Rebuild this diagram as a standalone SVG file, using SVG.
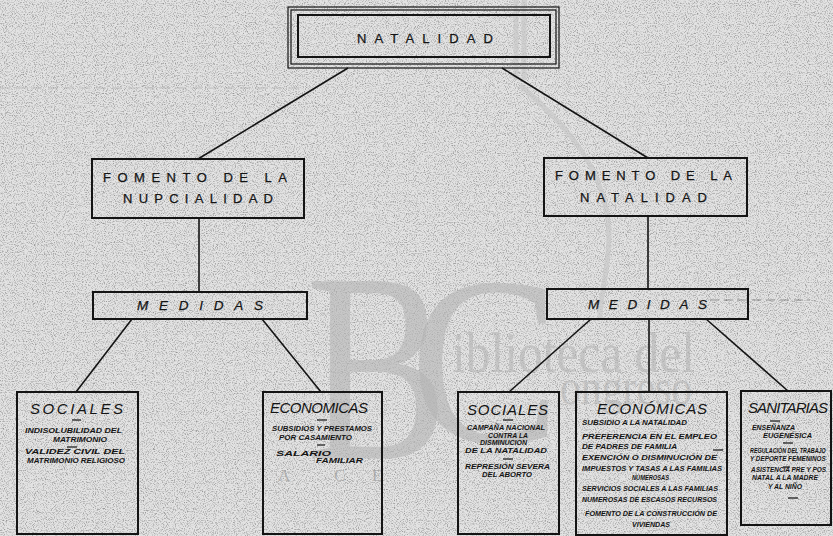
<svg xmlns="http://www.w3.org/2000/svg" width="833" height="536" viewBox="0 0 833 536">
<defs>
<filter id="grain" x="0" y="0" width="833" height="536" filterUnits="userSpaceOnUse">
<feTurbulence type="fractalNoise" baseFrequency="0.9" numOctaves="2" seed="7" stitchTiles="stitch"/>
<feColorMatrix type="matrix" values="0 0 0 0 0.3  0 0 0 0 0.3  0 0 0 0 0.3  2.6 0 0 0 -1.2"/>
</filter>
<style>
.box{fill:none;stroke:#141414;stroke-width:2}
.thin{fill:none;stroke:#141414;stroke-width:1.2}
.con line{stroke:#141414;stroke-width:1.6;fill:none}
.hd{font-family:"Liberation Sans",Arial,sans-serif;font-size:13px;fill:#141414;stroke:#141414;stroke-width:0.25}
.md{font-family:"Liberation Sans",Arial,sans-serif;font-size:13.5px;font-style:italic;fill:#141414;stroke:#141414;stroke-width:0.25}
.tt{font-family:"Liberation Sans",Arial,sans-serif;font-size:15px;font-style:italic;fill:#141414}
.sm{font-family:"Liberation Sans",Arial,sans-serif;font-size:7.5px;font-style:italic;font-weight:bold;fill:#141414}
.dash{stroke:#141414;stroke-width:1.2}
.wm{font-family:"Liberation Serif","Times New Roman",serif;fill:#b4b4b4;fill-opacity:0.6}
.wl{font-family:"Liberation Serif","Times New Roman",serif;font-size:17px;fill:#9a9a9a;fill-opacity:0.7}
</style>
</defs>
<rect x="0" y="0" width="833" height="536" fill="#e3e3e3"/>
<rect x="0" y="0" width="833" height="536" filter="url(#grain)"/>

<g id="watermark">
<path d="M516 0 L516 80 M524 0 L524 80 M520 85 C560 120 600 160 608 220 C612 260 600 290 600 320" fill="none" stroke="#c8c8c8" stroke-width="5" stroke-opacity="0.7"/>
<text class="wm" x="306" y="458" font-size="270" textLength="142" lengthAdjust="spacingAndGlyphs">B</text>
<text class="wm" x="410" y="442" font-size="240" textLength="150" lengthAdjust="spacingAndGlyphs">C</text>
<text class="wm" x="452" y="372" font-size="58" textLength="243" lengthAdjust="spacingAndGlyphs">iblioteca del</text>
<text class="wm" x="560" y="404" font-size="50" textLength="132" lengthAdjust="spacingAndGlyphs">ongreso</text>
<text class="wl" x="278" y="481">A</text>
<text class="wl" x="334" y="481">C</text>
<text class="wl" x="372" y="481">E</text>
<line x1="0" y1="88" x2="300" y2="88" stroke="#999" stroke-width="1" stroke-dasharray="10 6" stroke-opacity="0.45"/>
<line x1="710" y1="300" x2="810" y2="300" stroke="#555" stroke-width="1" stroke-dasharray="9 5" stroke-opacity="0.55"/>
</g>

<g id="connectors" class="con">
<line x1="348" y1="68" x2="198" y2="159"/>
<line x1="502" y1="68" x2="648" y2="158"/>
<line x1="199" y1="218" x2="199" y2="292"/>
<line x1="648" y1="216" x2="648" y2="289"/>
<line x1="132" y1="319" x2="76" y2="392"/>
<line x1="262" y1="319" x2="321" y2="392"/>
<line x1="591" y1="319" x2="509" y2="392"/>
<line x1="649" y1="319" x2="649" y2="392"/>
<line x1="706" y1="319" x2="788" y2="391"/>
</g>

<g id="natalidad">
<rect class="thin" x="288" y="7" width="271" height="61"/>
<rect class="thin" x="291" y="10" width="265" height="54"/>
<rect class="box" x="298" y="15" width="252" height="42" stroke-width="2.4"/>
<text class="hd" x="357" y="43" font-size="16" stroke-width="0.6" textLength="136" lengthAdjust="spacing">NATALIDAD</text>
</g>

<g id="fomento-nupcialidad">
<rect class="box" x="92" y="159" width="212" height="59"/>
<text class="hd" x="103" y="182" textLength="184" lengthAdjust="spacing">FOMENTO DE LA</text>
<text class="hd" x="123" y="203" textLength="150" lengthAdjust="spacing">NUPCIALIDAD</text>
</g>

<g id="fomento-natalidad">
<rect class="box" x="544" y="158" width="203" height="58"/>
<text class="hd" x="555" y="180" textLength="177" lengthAdjust="spacing">FOMENTO DE LA</text>
<text class="hd" x="580" y="202" textLength="127" lengthAdjust="spacing">NATALIDAD</text>
</g>

<g id="medidas-nupcialidad">
<rect class="box" x="93" y="292" width="214" height="27"/>
<text class="md" x="137" y="310" textLength="126" lengthAdjust="spacing">MEDIDAS</text>
</g>

<g id="medidas-natalidad">
<rect class="box" x="547" y="289" width="201" height="30"/>
<text class="md" x="588" y="309" textLength="119" lengthAdjust="spacing">MEDIDAS</text>
</g>

<g id="sociales-nupcialidad">
<rect class="box" x="17" y="392" width="121" height="142"/>
<text class="tt" x="30" y="414" textLength="93" lengthAdjust="spacing">SOCIALES</text>
<line class="dash" x1="72" y1="420" x2="81" y2="420"/>
<text class="sm" x="25" y="433" textLength="97" lengthAdjust="spacingAndGlyphs">INDISOLUBILIDAD DEL</text>
<text class="sm" x="53" y="442" textLength="54" lengthAdjust="spacingAndGlyphs">MATRIMONIO</text>
<line class="dash" x1="67" y1="447" x2="77" y2="447"/>
<text class="sm" x="25" y="454" textLength="100" lengthAdjust="spacingAndGlyphs">VALIDEZ CIVIL DEL</text>
<text class="sm" x="27" y="463" textLength="98" lengthAdjust="spacingAndGlyphs">MATRIMONIO RELIGIOSO</text>
</g>

<g id="economicas-nupcialidad">
<rect class="box" x="263" y="392" width="119" height="142"/>
<text class="tt" x="270" y="413" textLength="98" lengthAdjust="spacing">ECONOMICAS</text>
<line class="dash" x1="317" y1="420" x2="327" y2="420"/>
<text class="sm" x="272" y="431" textLength="100" lengthAdjust="spacingAndGlyphs">SUBSIDIOS Y PRESTAMOS</text>
<text class="sm" x="279" y="440" textLength="73" lengthAdjust="spacingAndGlyphs">POR CASAMIENTO</text>
<line class="dash" x1="317" y1="445" x2="325" y2="445"/>
<text class="sm" x="276" y="456" textLength="55" lengthAdjust="spacingAndGlyphs">SALARIO</text>
<text class="sm" x="316" y="463" textLength="47" lengthAdjust="spacingAndGlyphs">FAMILIAR</text>
</g>

<g id="sociales-natalidad">
<rect class="box" x="458" y="392" width="101" height="142"/>
<text class="tt" x="467" y="415" textLength="81" lengthAdjust="spacing">SOCIALES</text>
<line class="dash" x1="503" y1="420" x2="513" y2="420"/>
<text class="sm" x="467" y="430" textLength="78" lengthAdjust="spacingAndGlyphs">CAMPAÑA NACIONAL</text>
<text class="sm" x="488" y="438" textLength="40" lengthAdjust="spacingAndGlyphs">CONTRA LA</text>
<text class="sm" x="480" y="445" textLength="47" lengthAdjust="spacingAndGlyphs">DISMINUCION</text>
<text class="sm" x="465" y="453" textLength="82" lengthAdjust="spacingAndGlyphs">DE LA NATALIDAD</text>
<line class="dash" x1="503" y1="459" x2="513" y2="459"/>
<text class="sm" x="465" y="469" textLength="85" lengthAdjust="spacingAndGlyphs">REPRESIÓN SEVERA</text>
<text class="sm" x="482" y="477" textLength="50" lengthAdjust="spacingAndGlyphs">DEL ABORTO</text>
</g>

<g id="economicas-natalidad">
<rect class="box" x="576" y="392" width="151" height="143"/>
<text class="tt" x="597" y="414" textLength="110" lengthAdjust="spacing">ECONÓMICAS</text>
<text class="sm" x="582" y="425" textLength="105" lengthAdjust="spacingAndGlyphs">SUBSIDIO A LA NATALIDAD</text>
<text class="sm" x="582" y="439" textLength="135" lengthAdjust="spacingAndGlyphs">PREFERENCIA EN EL EMPLEO</text>
<text class="sm" x="582" y="449" textLength="95" lengthAdjust="spacingAndGlyphs">DE PADRES DE FAMILIA</text>
<line class="dash" x1="713" y1="450" x2="723" y2="450"/>
<text class="sm" x="582" y="460" textLength="135" lengthAdjust="spacingAndGlyphs">EXENCIÓN O DISMINUCIÓN DE</text>
<text class="sm" x="582" y="471" textLength="140" lengthAdjust="spacingAndGlyphs">IMPUESTOS Y TASAS A LAS FAMILIAS</text>
<text class="sm" x="632" y="480" textLength="37" lengthAdjust="spacingAndGlyphs">NUMEROSAS</text>
<text class="sm" x="582" y="491" textLength="136" lengthAdjust="spacingAndGlyphs">SERVICIOS SOCIALES A LAS FAMILIAS</text>
<text class="sm" x="582" y="502" textLength="135" lengthAdjust="spacingAndGlyphs">NUMEROSAS DE ESCASOS RECURSOS</text>
<text class="sm" x="585" y="516" textLength="132" lengthAdjust="spacingAndGlyphs">FOMENTO DE LA CONSTRUCCIÓN DE</text>
<text class="sm" x="632" y="527" textLength="38" lengthAdjust="spacingAndGlyphs">VIVIENDAS</text>
</g>

<g id="sanitarias">
<rect class="box" x="741" y="391" width="90" height="134"/>
<text class="tt" x="748" y="413" textLength="80" lengthAdjust="spacing">SANITARIAS</text>
<line class="dash" x1="770" y1="421" x2="780" y2="421"/>
<text class="sm" x="752" y="430" textLength="43" lengthAdjust="spacingAndGlyphs">ENSEÑANZA</text>
<text class="sm" x="763" y="438" textLength="49" lengthAdjust="spacingAndGlyphs">EUGENÉSICA</text>
<line class="dash" x1="783" y1="443" x2="793" y2="443"/>
<text class="sm" transform="translate(750 453) scale(0.75 1)" x="0" y="0" font-size="7" textLength="101" lengthAdjust="spacingAndGlyphs">REGULACIÓN DEL TRABAJO</text>
<text class="sm" transform="translate(750 461) scale(0.75 1)" x="0" y="0" font-size="7" textLength="101" lengthAdjust="spacingAndGlyphs">Y DEPORTE FEMENINOS</text>
<line class="dash" x1="783" y1="467" x2="790" y2="467"/>
<text class="sm" transform="translate(751 472) scale(0.75 1)" x="0" y="0" font-size="7" textLength="100" lengthAdjust="spacingAndGlyphs">ASISTENCIA PRE Y POS</text>
<text class="sm" x="752" y="480" textLength="66" lengthAdjust="spacingAndGlyphs">NATAL A LA MADRE</text>
<text class="sm" x="768" y="489" textLength="34" lengthAdjust="spacingAndGlyphs">Y AL NIÑO</text>
<line class="dash" x1="788" y1="498" x2="798" y2="498"/>
</g>
</svg>
